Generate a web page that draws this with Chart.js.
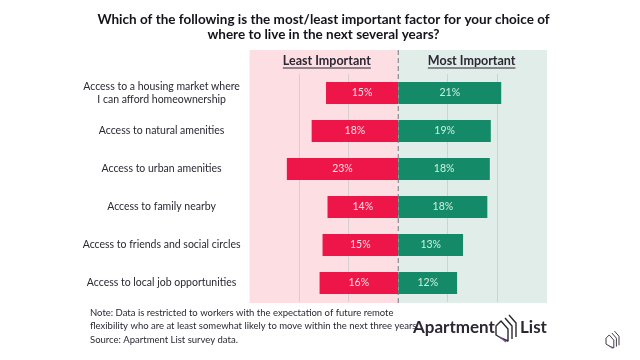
<!DOCTYPE html>
<html>
<head>
<meta charset="utf-8">
<script src="https://cdn.jsdelivr.net/npm/chart.js@4"></script>
<style>
html, body { margin: 0; padding: 0; background: #fff; }
#wrap { width: 640px; height: 360px; }
</style>
</head>
<body>
<div id="wrap"><canvas id="myChart"></canvas></div>
<script>
const categories = [
    ['Access to a housing market where', 'I can afford homeownership'],
    'Access to natural amenities',
    'Access to urban amenities',
    'Access to family nearby',
    'Access to friends and social circles',
    'Access to local job opportunities'
];
// bar lengths, the labels are the rounded numbers printed on them
const leastValues = [-14.5, -17.4, -22.4, -14.2, -15.2, -15.8];
const mostValues = [20.7, 18.6, 18.4, 17.9, 13.0, 11.8];
const leastLabels = ['15%', '18%', '23%', '14%', '15%', '16%'];
const mostLabels = ['21%', '19%', '18%', '18%', '13%', '12%'];
const titleLines = [
    'Which of the following is the most/least important factor for your choice of',
    'where to live in the next several years?'
];
const noteLines = [
    'Note: Data is restricted to workers with the expectation of future remote',
    'flexibility who are at least somewhat likely to move within the next three years.'
];
const sourceLine = 'Source: Apartment List survey data.';

const fontName = 'Lato';
const ink = '#2b2733';

// small helper for the canvas text
function text(c, str, x, y, font, color, align) {
    c.font = font;
    c.fillStyle = color;
    c.textAlign = align || 'left';
    c.textBaseline = 'middle';
    c.fillText(str, x, y);
}

// the house logo, nested chevrons
function drawLogo(c, x, y, s, width) {
    c.save();
    c.translate(x, y);
    c.scale(s, s);
    c.lineWidth = width;
    c.lineJoin = 'round';
    c.strokeStyle = ink;
    [[0, 0], [4, -3], [8, -6]].forEach(function (o, i) {
        c.beginPath();
        c.moveTo(5 + o[0], 3 + o[1]);
        c.lineTo(12 + o[0], 11 + o[1]);
        c.lineTo(12 + o[0], 23 + o[1] + i);
        if (i == 0) {
            c.lineTo(5, 20);
            c.lineTo(0, 17);
            c.lineTo(0, 8);
            c.closePath();
        }
        c.stroke();
    });
    c.strokeStyle = '#7a4fa3';
    c.beginPath();
    c.moveTo(4, 19);
    c.lineTo(10, 24);
    c.stroke();
    c.restore();
}

// pink and green panels, headers and the dashed middle line
const panels = {
    id: 'panels',
    beforeDraw(chart) {
        const c = chart.ctx, x = chart.scales.x, area = chart.chartArea;
        const left = x.getPixelForValue(-30), mid = x.getPixelForValue(0), right = x.getPixelForValue(30);
        const top = 50;
        c.save();
        c.fillStyle = '#fddfe3';
        c.fillRect(left, top, mid - left, area.bottom + 1 - top);
        c.fillStyle = '#e0ede8';
        c.fillRect(mid, top, right - mid, area.bottom + 1 - top);
        c.restore();
    },
    beforeDatasetsDraw(chart) {
        const c = chart.ctx, x = chart.scales.x, area = chart.chartArea;
        const mid = x.getPixelForValue(0);
        c.save();
        c.strokeStyle = '#77777c';
        c.lineWidth = 1;
        c.setLineDash([5, 3]);
        c.beginPath();
        c.moveTo(mid, 50);
        c.lineTo(mid, area.bottom + 1);
        c.stroke();
        c.restore();
    },
    afterDraw(chart) {
        const c = chart.ctx, x = chart.scales.x;
        c.save();
        // panel headers
        const heads = [['Least Important', x.getPixelForValue(-14.4)], ['Most Important', x.getPixelForValue(14.8)]];
        heads.forEach(function (h) {
            text(c, h[0], h[1], 61, 'bold 12.5px ' + fontName, ink, 'center');
            const w = c.measureText(h[0]).width;
            c.fillStyle = ink;
            c.fillRect(h[1] - w / 2, 67.5, w, 1);
        });
        // numbers on the bars
        [[0, leastLabels, '#ffdfe4'], [1, mostLabels, '#cdf2e2']].forEach(function (d) {
            chart.getDatasetMeta(d[0]).data.forEach(function (bar, i) {
                text(c, d[1][i], (bar.x + bar.base) / 2, bar.y, '10.5px ' + fontName, d[2], 'center');
            });
        });
        // title
        titleLines.forEach(function (t, i) {
            text(c, t, 323.5, 20 + i * 15, 'bold 13.5px ' + fontName, '#15121c', 'center');
        });
        // notes
        noteLines.forEach(function (t, i) {
            text(c, t, 90, 313 + i * 12.5, '9.5px ' + fontName, ink);
        });
        text(c, sourceLine, 90, 340, '9.5px ' + fontName, ink);
        // logo
        text(c, 'Apartment', 413, 328, 'bold 17px ' + fontName, ink);
        text(c, 'List', 520, 328, 'bold 17px ' + fontName, ink);
        drawLogo(c, 496, 318, 1, 1.4);
        drawLogo(c, 606, 333, 0.65, 1.4);
        c.restore();
    }
};

const ctx = document.getElementById('myChart').getContext('2d');
const chart = new Chart(ctx, {
    type: 'bar',
    data: {
        labels: categories,
        datasets: [
            { label: 'Least Important', data: leastValues, backgroundColor: '#ee1549', barThickness: 21.5 },
            { label: 'Most Important', data: mostValues, backgroundColor: '#158a68', barThickness: 21.5 }
        ]
    },
    options: {
        indexAxis: 'y',
        responsive: true,
        maintainAspectRatio: false,
        animation: false,
        layout: { padding: { left: 0, right: 93, top: 74, bottom: 58 } },
        plugins: {
            legend: { display: false },
            title: { display: false },
            tooltip: { enabled: false }
        },
        scales: {
            x: {
                min: -30,
                max: 30,
                stacked: true,
                border: { display: false },
                ticks: { display: false, stepSize: 10 },
                grid: {
                    drawTicks: false,
                    color: function (g) {
                        return Math.abs(g.tick.value) == 10 || Math.abs(g.tick.value) == 20 ? '#d5cfd0' : 'transparent';
                    }
                }
            },
            y: {
                stacked: true,
                border: { display: false },
                grid: { display: false, drawTicks: false },
                afterFit(scale) { scale.width = 249.5; },
                ticks: {
                    crossAlign: 'center',
                    padding: 9,
                    color: ink,
                    font: { family: fontName, size: 10.5 }
                }
            }
        }
    },
    plugins: [panels]
});
</script>
</body>
</html>
